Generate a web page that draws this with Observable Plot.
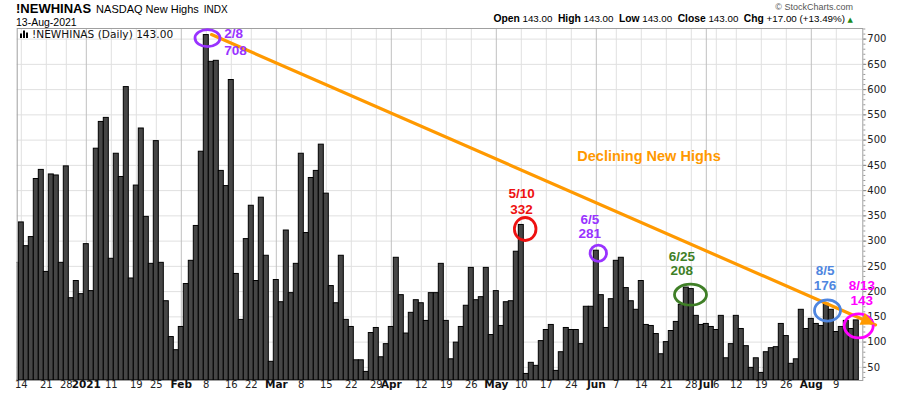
<!DOCTYPE html>
<html><head><meta charset="utf-8">
<script src="https://cdn.jsdelivr.net/npm/d3@7"></script>
<script src="https://cdn.jsdelivr.net/npm/@observablehq/plot@0.6"></script>
<style>
body{margin:0;background:#fff;}
#chart svg{display:block;}
</style>
</head><body><div id="chart"></div>
<script>
// ---- DATA ----
const startDate = "2020-12-11";
const endDate = "2021-08-13";
const holidays = ["2020-12-25","2021-01-01","2021-01-18","2021-02-15","2021-04-02","2021-05-31","2021-07-05"];
const dec2020 = [257,337,290,308,423,441,239,432,430,257,448,187,221,195];
const jan2021 = [294,201,483,536,544,265,473,427,605,226,410,523,348,255,498,257,181,110,84];
const feb2021 = [130,215,261,330,477,708,655,657,439,409,619,235,144,304,370,221,386,271,61];
const mar2021 = [223,179,321,197,255,473,316,425,439,491,394,211,177,271,144,130,64,64,41,118,128,70,96];
const apr2021 = [130,267,193,117,158,183,177,142,197,197,255,142,66,99,130,172,247,183,189,247,114];
const may2021 = [201,132,179,181,279,332,37,59,53,102,124,134,43,80,128,124,124,96,170,170];
const jun2021 = [281,193,128,185,261,267,207,181,164,221,134,132,116,76,100,122,140,174,208,205,152,134];
const jul2021 = [136,130,124,152,68,96,152,126,92,49,68,39,80,88,90,136,112,57,66,164,126];
const aug2021 = [146,136,132,176,164,120,130,142,126,143];

const tickDates  = ["2020-12-14","2020-12-21","2020-12-28","2021-01-04","2021-01-11","2021-01-19","2021-01-25","2021-02-01","2021-02-08","2021-02-16","2021-02-22","2021-03-01","2021-03-08","2021-03-15","2021-03-22","2021-03-29","2021-04-01","2021-04-12","2021-04-19","2021-04-26","2021-05-03","2021-05-10","2021-05-17","2021-05-24","2021-06-01","2021-06-07","2021-06-14","2021-06-21","2021-06-28","2021-07-01","2021-07-06","2021-07-12","2021-07-19","2021-07-26","2021-08-02","2021-08-09"];
const tickLabels = ["14","21","28","2021","11","19","25","Feb","8","16","22","Mar","8","15","22","29","Apr","12","19","26","May","10","17","24","Jun","7","14","21","28","Jul","6","12","19","26","Aug","9"];
const tickMajor  = ["2021","Feb","Mar","Apr","May","Jun","Jul","Aug"];
const yTickValues = [50,100,150,200,250,300,350,400,450,500,550,600,650,700];

// annotations (x in trading-day index, y in data units)
const annoLabels = [
  {i:41.6, v:710, t:"2/8", c:"#9933ff", a:"start"},
  {i:41.6, v:677, t:"708", c:"#9933ff", a:"start"},
  {i:101.05, v:393, t:"5/10", c:"#ee1111", a:"middle"},
  {i:101.05, v:363, t:"332", c:"#ee1111", a:"middle"},
  {i:114.7, v:343, t:"6/5", c:"#9933ff", a:"middle"},
  {i:114.7, v:315, t:"281", c:"#9933ff", a:"middle"},
  {i:133.1, v:270, t:"6/25", c:"#3f7f27", a:"middle"},
  {i:133.1, v:241, t:"208", c:"#3f7f27", a:"middle"},
  {i:161.75, v:242, t:"8/5", c:"#4f86e0", a:"middle"},
  {i:161.75, v:212, t:"176", c:"#4f86e0", a:"middle"},
  {i:169.1, v:212, t:"8/13", c:"#ff00ff", a:"middle"},
  {i:169.1, v:182, t:"143", c:"#ff00ff", a:"middle"}
];
const annoRings = [
  {i:38.34, v:701, rx:12.5, ry:8.5, c:"#9933ff"},
  {i:101.88, v:323, rx:10.8, ry:11.5, c:"#ee1111"},
  {i:116.5, v:275, rx:8.2, ry:8.2, c:"#9933ff"},
  {i:134.94, v:193, rx:16, ry:10.5, c:"#3f7f27"},
  {i:162.34, v:161.6, rx:13, ry:10.6, c:"#4f86e0"},
  {i:168.58, v:131.3, rx:14.5, ry:12, c:"#ff00ff"}
];
const trend = [{i:39.04, v:709}, {i:171.84, v:134}];
const trendLabel = [{i:112.2, v:468, t:"Declining New Highs"}];

// ---- BUILD ----
const values = [...dec2020,...jan2021,...feb2021,...mar2021,...apr2021,...may2021,...jun2021,...jul2021,...aug2021];
const days = [];
for (let d = new Date(startDate+"T00:00:00Z"); d <= new Date(endDate+"T00:00:00Z"); d.setUTCDate(d.getUTCDate()+1)) {
  const wd = d.getUTCDay(); const s = d.toISOString().slice(0,10);
  if (wd === 0 || wd === 6 || holidays.includes(s)) continue;
  days.push(s);
}
const data = values.map((v,i) => ({i, date: days[i], v}));
const ticks = tickDates.map((s,k) => ({i: days.indexOf(s), label: tickLabels[k], major: tickMajor.includes(tickLabels[k])}));

const yMin = 24, yMax = 721;
const orange = "#ff9900";
const plot = Plot.plot({
  width: 900, height: 396,
  marginLeft: 16.7, marginRight: 37.7, marginTop: 28, marginBottom: 16,
  style: {fontFamily: "'DejaVu Sans', sans-serif", fontSize: "10px", background: "#fff", overflow: "visible", color: "#000"},
  x: {type: "linear", domain: [0.18, 169.3], axis: null, label: null},
  y: {domain: [yMin, yMax], axis: null, label: null},
  marks: [
    Plot.ruleY(yTickValues, {stroke: "#e0e0e0", strokeWidth: 1}),
    Plot.ruleX(ticks.filter(t => !t.major), {x: "i", stroke: "#e0e0e0", strokeWidth: 1}),
    Plot.ruleX(ticks.filter(t => t.major), {x: "i", stroke: "#c0c0c0", strokeWidth: 1}),
    Plot.rect(data, {x1: d => d.i - 0.5, x2: d => d.i + 0.5, y1: () => yMin, y2: "v", fill: "#464646", stroke: "#000", strokeWidth: 1, clip: true}),
    Plot.frame({stroke: "#a0a0a0"}),
    Plot.axisY({anchor: "right", ticks: d3.range(30, 721, 10), tickSize: 2, tickFormat: () => "", stroke: "#999", label: null}),
    Plot.axisY({anchor: "right", ticks: yTickValues, tickSize: 3, tickPadding: 1.5, stroke: "#888", fill: "#222", label: null}),
    Plot.text(ticks.filter(t => !t.major), {x: "i", text: "label", frameAnchor: "bottom", dy: 7, fill: "#222"}),
    Plot.text(ticks.filter(t => t.major), {x: "i", text: "label", frameAnchor: "bottom", dy: 7, fill: "#111", fontWeight: "bold", fontSize: 10.5}),
    Plot.line(trend, {x: "i", y: "v", stroke: orange, strokeWidth: 3.2}),
    Plot.text(trendLabel, {x: "i", y: "v", text: "t", fill: orange, textAnchor: "start", fontWeight: "bold", fontSize: 14.5, fontFamily: "'Liberation Sans', Arial, sans-serif"}),
    ...["start","middle"].map(a => Plot.text(annoLabels.filter(d => d.a === a), {x: "i", y: "v", text: "t", fill: "c", textAnchor: a, fontWeight: "bold", fontSize: 13.5, fontFamily: "'Liberation Sans', Arial, sans-serif"}))
  ]
});

const svg = d3.select(plot);
const xs = plot.scale("x"), ys = plot.scale("y");
// rings
svg.selectAll("ellipse.ring").data(annoRings).join("ellipse")
  .attr("class","ring")
  .attr("cx", d => xs.apply(d.i)).attr("cy", d => ys.apply(d.v))
  .attr("rx", d => d.rx).attr("ry", d => d.ry)
  .attr("fill","none").attr("stroke", d => d.c).attr("stroke-width", 2.8);
// arrowhead
{
  const x0 = xs.apply(trend[0].i), y0 = ys.apply(trend[0].v);
  const x1 = xs.apply(trend[1].i), y1 = ys.apply(trend[1].v);
  const len = Math.hypot(x1-x0, y1-y0), ux = (x1-x0)/len, uy = (y1-y0)/len;
  const hl = 14, hw = 6.5;
  const bx = x1 - ux*hl, by = y1 - uy*hl;
  svg.append("polygon")
    .attr("points", [[x1,y1],[bx - uy*hw, by + ux*hw],[bx + uy*hw, by - ux*hw]].map(p => p.join(",")).join(" "))
    .attr("fill", orange);
}
// header
const sans = "'Liberation Sans', Arial, sans-serif";
const hdr = svg.append("g").attr("text-anchor","start");
const h = hdr.append("text").attr("x",16).attr("y",12.7).attr("font-family",sans).attr("fill","#000");
h.append("tspan").attr("font-weight","bold").attr("font-size",13).text("!NEWHINAS");
h.append("tspan").attr("font-size",11).attr("dx",5).text("NASDAQ New Highs");
h.append("tspan").attr("font-size",10).attr("dx",5).text("INDX");
hdr.append("text").attr("x",16).attr("y",25.5).attr("font-family",sans).attr("font-size",10.5).text("13-Aug-2021");
hdr.append("text").attr("x",853).attr("y",9.5).attr("text-anchor","end").attr("font-family",sans).attr("font-size",9).attr("fill","#555").text("© StockCharts.com");
const o = hdr.append("text").attr("x",845).attr("y",22).attr("text-anchor","end").attr("font-family",sans).attr("fill","#000").style("white-space","pre");
[["Open"," 143.00  "],["High"," 143.00  "],["Low"," 143.00  "],["Close"," 143.00  "],["Chg"," +17.00 (+13.49%)"]].forEach(([k,v]) => {
  o.append("tspan").attr("font-weight","bold").attr("font-size",10.3).text(k);
  o.append("tspan").attr("font-size",9.8).text(v);
});
hdr.append("text").attr("x",847.5).attr("y",21.5).attr("font-family","'DejaVu Sans', sans-serif").attr("font-size",7).attr("fill","#1a8a1a").text("▲");
// inner legend
const lg = svg.append("g").attr("fill","#000");
[[20,33.5,2,4.5],[23,30.5,2,7.5],[26,32.5,2,5.5]].forEach(([x,y,w,hh]) => lg.append("rect").attr("x",x).attr("y",y).attr("width",w).attr("height",hh));
hdr.append("text").attr("x",32).attr("y",38.3).attr("font-family","'DejaVu Sans', sans-serif").attr("font-size",10.6).attr("fill","#111").text("!NEWHINAS (Daily) 143.00");

document.getElementById("chart").append(plot);
</script>
</body></html>
